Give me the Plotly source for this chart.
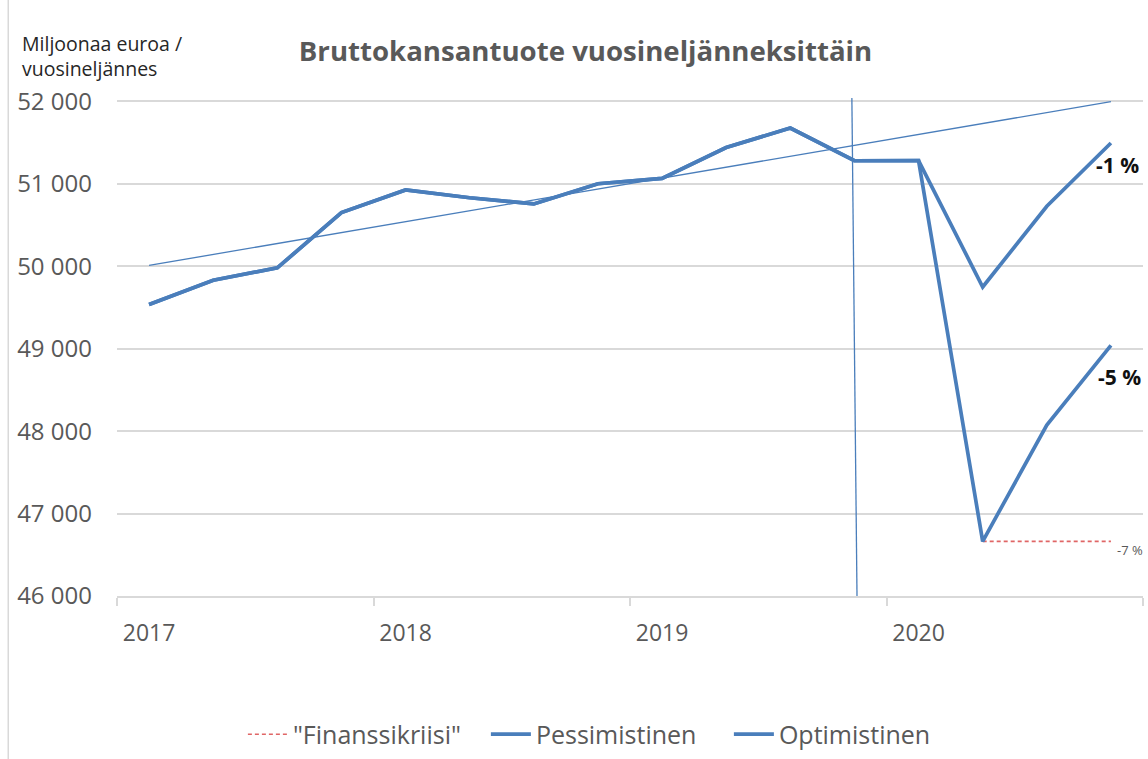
import plotly.graph_objects as go

# ---- data ----
quarters = list(range(16))  # 2017Q1 .. 2020Q4
year_labels = ["2017", "2018", "2019", "2020"]
year_label_pos = [0, 4, 8, 12]
year_boundaries = [-0.5, 3.5, 7.5, 11.5, 15.5]

common = [49535, 49830, 49980, 50650, 50925, 50830, 50755, 51000,
          51065, 51440, 51676, 51279, 51280]
pessimistinen = common + [46663, 48073, 49040]
optimistinen = common + [49748, 50727, 51494]
finanssikriisi = [None] * 13 + [46663, 46663, 46663]
trend_x = [0, 15]
trend_y = [50010, 51995]
marker_quarter = 11

y_ticks = [46000, 47000, 48000, 49000, 50000, 51000, 52000]
y_ticktext = ["46 000", "47 000", "48 000", "49 000", "50 000", "51 000", "52 000"]

BLUE = "#4a7ebb"
GRID = "#d9d9d9"
TXT = "#595959"
FONT = "Open Sans"

fig = go.Figure()
fig.add_trace(go.Scatter(x=trend_x, y=trend_y, mode="lines",
                         line=dict(color=BLUE, width=1.3), showlegend=False,
                         hoverinfo="skip"))
fig.add_trace(go.Scatter(x=quarters, y=finanssikriisi, mode="lines",
                         name='"Finanssikriisi"',
                         line=dict(color="#e06666", width=1.6, dash="4px,3px")))
fig.add_trace(go.Scatter(x=quarters, y=pessimistinen, mode="lines",
                         name="Pessimistinen",
                         line=dict(color=BLUE, width=3.7)))
fig.add_trace(go.Scatter(x=quarters, y=optimistinen, mode="lines",
                         name="Optimistinen",
                         line=dict(color=BLUE, width=3.7)))

# vertical marker line (slightly tilted as in the reference)
fig.add_shape(type="line", xref="x", yref="y",
              x0=marker_quarter - 0.04, y0=52040,
              x1=marker_quarter + 0.04, y1=46000,
              line=dict(color=BLUE, width=1.3), layer="above")

# left border line
fig.add_shape(type="line", xref="paper", yref="paper",
              x0=-0.106, x1=-0.106, y0=-0.33, y1=1.2,
              line=dict(color=GRID, width=1.5))

fig.update_layout(
    width=1148, height=759,
    margin=dict(l=117, r=5, t=98, b=163, autoexpand=False),
    paper_bgcolor="white", plot_bgcolor="white",
    font=dict(family=FONT, color=TXT),
    title=dict(text="<b>Bruttokansantuote vuosineljänneksittäin</b>",
               x=0.51, xanchor="center", y=0.932, yanchor="middle",
               font=dict(size=27.6, color=TXT, family=FONT)),
    xaxis=dict(range=[-0.5, 15.5], tickmode="array",
               tickvals=year_label_pos, ticktext=year_labels,
               ticks="", showgrid=False, zeroline=False,
               showline=True, linecolor=GRID, linewidth=1.5,
               tickfont=dict(size=23, color=TXT, family=FONT),
               ticklabelstandoff=16,
               minor=dict(tickmode="array", tickvals=year_boundaries,
                          ticks="outside", ticklen=8, tickcolor=GRID,
                          tickwidth=1.5, showgrid=False)),
    xaxis2=dict(range=[-0.5, 15.5], overlaying="x", anchor="y", side="bottom",
                tickmode="array", tickvals=year_boundaries, ticks="inside",
                ticklen=8, tickcolor=GRID, tickwidth=1.5,
                showticklabels=False, showgrid=False, zeroline=False,
                showline=False),
    yaxis=dict(range=[46000, 52040], tickmode="array", tickvals=y_ticks,
               ticktext=y_ticktext, ticks="", showgrid=True,
               gridcolor=GRID, gridwidth=1.5, zeroline=False, showline=False,
               tickfont=dict(size=24, color=TXT, family=FONT),
               ticklabelstandoff=24),
    legend=dict(orientation="h", x=0.1227, xanchor="left", y=-0.278,
                yanchor="middle", font=dict(size=25, color=TXT, family=FONT),
                itemwidth=40, entrywidth=188, entrywidthmode="pixels",
                tracegroupgap=0, bgcolor="rgba(0,0,0,0)"),
    showlegend=True,
)

fig.add_annotation(xref="paper", yref="paper", x=-0.0945, y=1.028,
                   xanchor="left", yanchor="bottom", align="left",
                   text="Miljoonaa euroa /<br>vuosineljännes", showarrow=False,
                   font=dict(size=19.5, color="#262626", family=FONT))
fig.add_annotation(x=15.1, y=51230, text="<b>-1 %</b>", showarrow=False,
                   xanchor="center", yanchor="middle",
                   font=dict(size=21, color="#111111", family=FONT))
fig.add_annotation(x=15.13, y=48660, text="<b>-5 %</b>", showarrow=False,
                   xanchor="center", yanchor="middle",
                   font=dict(size=21, color="#111111", family=FONT))
fig.add_annotation(x=15.3, y=46555, text="-7 %", showarrow=False,
                   xanchor="center", yanchor="middle",
                   font=dict(size=13, color=TXT, family=FONT))

fig.write_html(
    "out.html",
    config={"displayModeBar": False},
    post_script="document.body.style.margin='0';document.body.style.padding='0';"
                "document.body.style.overflow='hidden';",
)
